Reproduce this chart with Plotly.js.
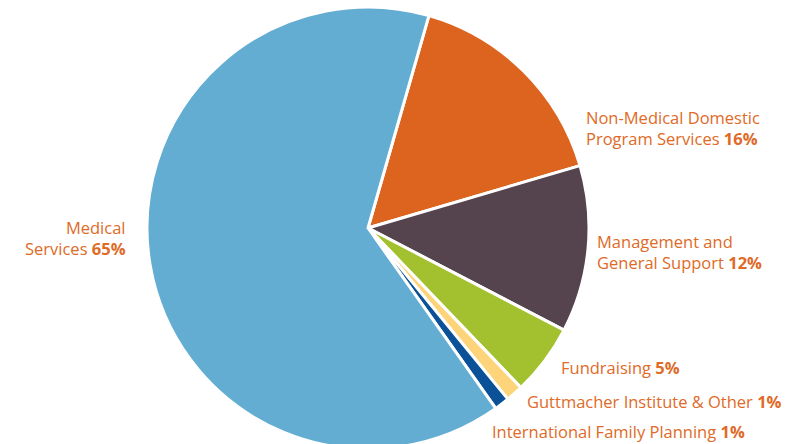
<!DOCTYPE html>
<html>
<head>
<meta charset="utf-8">
<script src="https://cdn.plot.ly/plotly-3.0.1.min.js"></script>
<style>
html,body{margin:0;padding:0;overflow:hidden;background:#fff;}
#chart{width:803px;height:460px;}
</style>
</head>
<body>
<div id="chart"></div>
<script>
// Data
const categories = [
  "Non-Medical Domestic Program Services",
  "Management and General Support",
  "Fundraising",
  "Guttmacher Institute & Other",
  "International Family Planning",
  "Medical Services"
];
const values = [16.0, 12.2, 5.2, 1.25, 1.1, 64.25];
const percentLabels = ["16%", "12%", "5%", "1%", "1%", "65%"];
const labelLines = [
  ["Non-Medical Domestic", "Program Services"],
  ["Management and", "General Support"],
  ["Fundraising"],
  ["Guttmacher Institute & Other"],
  ["International Family Planning"],
  ["Medical", "Services"]
];
const colors = ["#dc641f", "#55434e", "#a3c02f", "#fdd47a", "#0b5197", "#63add3"];

const W = 803, H = 460;
const px = (x) => x / W;
const py = (y) => 1 - y / H;

// label placement (pixels): x, y center of the label block, anchor
const labelPos = [
  {x: 585, y: 127.5, anchor: "left"},
  {x: 596, y: 252, anchor: "left"},
  {x: 560, y: 367, anchor: "left"},
  {x: 526, y: 401, anchor: "left"},
  {x: 491, y: 431, anchor: "left"},
  {x: 127, y: 238, anchor: "right"}
];

const annotations = categories.map((c, i) => {
  const lines = labelLines[i].slice();
  lines[lines.length - 1] += " <b>" + percentLabels[i] + "</b>";
  return {
    text: lines.join("<br>"),
    xref: "paper", yref: "paper",
    x: px(labelPos[i].x), y: py(labelPos[i].y),
    xanchor: labelPos[i].anchor, yanchor: "middle",
    align: labelPos[i].anchor,
    showarrow: false,
    borderpad: 0,
    font: {family: "'Open Sans', sans-serif", size: 16.5, color: "#e06a27"}
  };
});

const trace = {
  type: "pie",
  labels: categories,
  values: values,
  sort: false,
  direction: "clockwise",
  rotation: 16,
  textinfo: "none",
  hoverinfo: "label+percent",
  marker: {colors: colors, line: {color: "#ffffff", width: 3}},
  domain: {x: [px(147), px(589)], y: [py(449), py(7)]},
  showlegend: false
};

Plotly.newPlot("chart", [trace], {
  width: W, height: H,
  margin: {l: 0, r: 0, t: 0, b: 0},
  paper_bgcolor: "#ffffff",
  showlegend: false,
  annotations: annotations
}, {displayModeBar: false, staticPlot: true});
</script>
</body>
</html>
